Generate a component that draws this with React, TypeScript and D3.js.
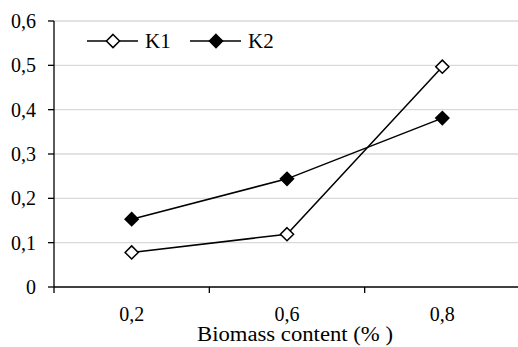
import * as d3 from "d3";

// biomass content categories (x axis)
const categories = ["0,2", "0,6", "0,8"];
const k1Values = [0.078, 0.119, 0.497];
const k2Values = [0.153, 0.244, 0.381];
const yTicks = [0, 0.1, 0.2, 0.3, 0.4, 0.5, 0.6];
const seriesNames = ["K1", "K2"];

const W = 518;
const H = 347;
const m = { left: 54, right: 520, top: 21, bottom: 287 };

const fmt = (v: number) => (v === 0 ? "0" : d3.format(".1f")(v).replace(".", ","));

const diamond = d3.symbol().type(d3.symbolDiamond2).size(110);
const serif = { fontFamily: "'Liberation Serif', 'Times New Roman', serif" };

export default function App() {
  const x = d3.scaleBand().domain(categories).range([m.left, m.right]).padding(0);
  const y = d3.scaleLinear().domain([0, 0.6]).range([m.bottom, m.top]);
  const cx = (i: number) => x(categories[i])! + x.bandwidth() / 2;
  const line = d3
    .line<number>()
    .x((_, i) => cx(i))
    .y((d) => y(d));

  const bounds = categories.map((c) => x(c)!).concat([x(categories[2])! + x.bandwidth()]);
  const series = [
    { name: seriesNames[0], values: k1Values, fill: "#fff" },
    { name: seriesNames[1], values: k2Values, fill: "#000" },
  ];

  return (
    <div style={{ position: "fixed", left: 0, top: 0 }}>
      <svg width={W} height={H} style={{ display: "block", background: "#fff" }}>
        {/* gridlines */}
        {yTicks.slice(1).map((t) => (
          <line key={t} x1={m.left} x2={W} y1={y(t)} y2={y(t)} stroke="#d9d9d9" strokeWidth={1.3} />
        ))}
        {/* y axis */}
        <line x1={m.left} x2={m.left} y1={m.top} y2={m.bottom} stroke="#000" strokeWidth={1.3} />
        {yTicks.map((t) => (
          <g key={t}>
            <line x1={m.left - 6} x2={m.left} y1={y(t)} y2={y(t)} stroke="#000" strokeWidth={1.3} />
            <text x={36} y={y(t)} dy="0.35em" textAnchor="end" fontSize={20} fill="#000" style={serif}>
              {fmt(t)}
            </text>
          </g>
        ))}
        {/* x axis */}
        <line x1={m.left} x2={W} y1={m.bottom} y2={m.bottom} stroke="#000" strokeWidth={1.3} />
        {bounds.map((b, i) => (
          <line key={i} x1={b} x2={b} y1={m.bottom} y2={m.bottom + 6} stroke="#000" strokeWidth={1.3} />
        ))}
        {categories.map((c, i) => (
          <text key={c} x={cx(i)} y={321} textAnchor="middle" fontSize={20} fill="#000" style={serif}>
            {c}
          </text>
        ))}
        <text
          x={197}
          y={341}
          fontSize={20}
          fill="#000"
          style={serif}
          textLength={196}
          lengthAdjust="spacingAndGlyphs"
        >
          Biomass content (% )
        </text>
        {/* series */}
        {series.map((s) => (
          <g key={s.name}>
            <path d={line(s.values)!} fill="none" stroke="#000" strokeWidth={1.5} />
            {s.values.map((v, i) => (
              <path
                key={i}
                d={diamond()!}
                transform={`translate(${cx(i)},${y(v)})`}
                fill={s.fill}
                stroke="#000"
                strokeWidth={1.5}
              />
            ))}
          </g>
        ))}
        {/* legend */}
        {series.map((s, i) => {
          const lx = 87 + i * 103;
          return (
            <g key={s.name}>
              <line x1={lx} x2={lx + 51} y1={41} y2={41} stroke="#000" strokeWidth={1.5} />
              <path d={diamond()!} transform={`translate(${lx + 26},41)`} fill={s.fill} stroke="#000" strokeWidth={1.5} />
              <text x={lx + 58} y={48} fontSize={21} fill="#000" style={serif}>
                {s.name}
              </text>
            </g>
          );
        })}
      </svg>
    </div>
  );
}
